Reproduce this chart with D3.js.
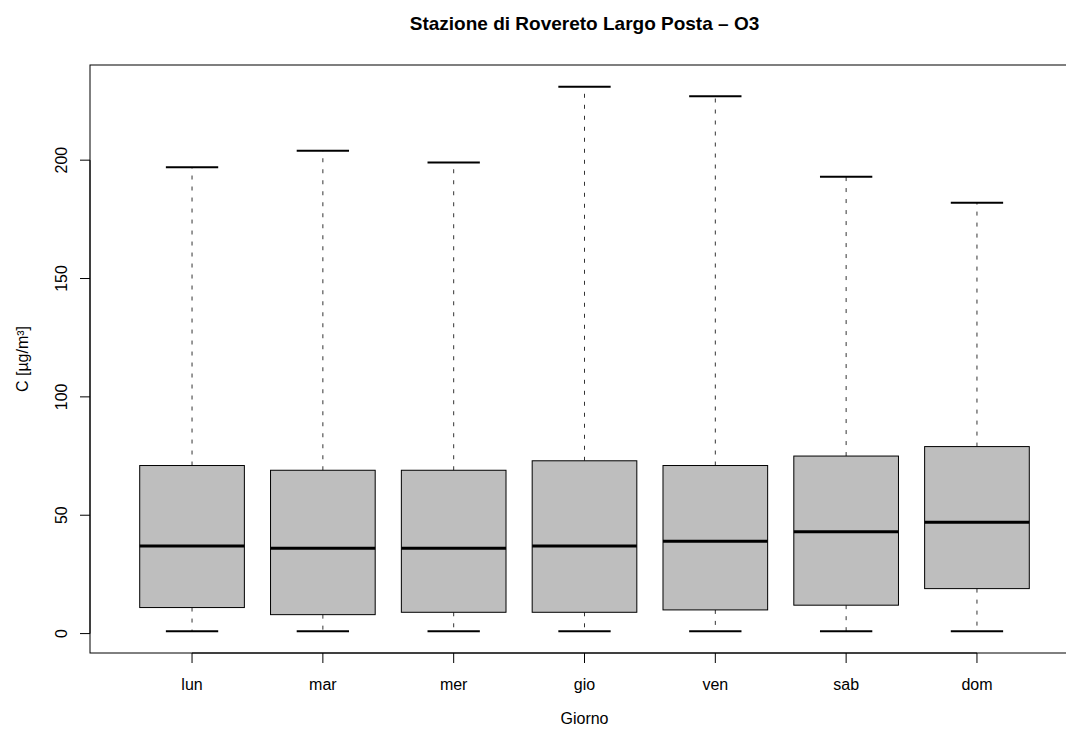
<!DOCTYPE html>
<html><head><meta charset="utf-8">
<script src="https://cdn.jsdelivr.net/npm/d3@7"></script>
<style>body{margin:0;background:#fff}text{font-family:"Liberation Sans",Arial,sans-serif}</style>
</head><body><svg id="c" width="1066" height="731"></svg>
<script>
const days = ["lun","mar","mer","gio","ven","sab","dom"];
const whiskerLow = [1,1,1,1,1,1,1];
const q1 = [11,8,9,9,10,12,19];
const median = [37,36,36,37,39,43,47];
const q3 = [71,69,69,73,71,75,79];
const whiskerHigh = [197,204,199,231,227,193,182];
const yTicks = [0,50,100,150,200];

const svg = d3.select("#c");
const L=90, R=1079, T=65, B=653;
const x = d3.scaleLinear().domain([0.22,7.78]).range([L,R]);
const y = d3.scaleLinear().domain([-8.2,240.2]).range([B,T]);
const data = days.map((d,i)=>({d,i:i+1,lo:whiskerLow[i],q1:q1[i],md:median[i],q3:q3[i],hi:whiskerHigh[i]}));
const cx = (L+R)/2;

const g = svg.append("g");
const bw=0.4, cw=0.2;
g.selectAll(".wu").data(data).join("line").attr("x1",d=>x(d.i)).attr("x2",d=>x(d.i))
 .attr("y1",d=>y(d.q3)).attr("y2",d=>y(d.hi)).attr("stroke","#333").attr("stroke-dasharray","4,7");
g.selectAll(".wl").data(data).join("line").attr("x1",d=>x(d.i)).attr("x2",d=>x(d.i))
 .attr("y1",d=>y(d.q1)).attr("y2",d=>y(d.lo)).attr("stroke","#333").attr("stroke-dasharray","4,7");
g.selectAll(".ch").data(data).join("line").attr("x1",d=>x(d.i-cw)).attr("x2",d=>x(d.i+cw))
 .attr("y1",d=>y(d.hi)).attr("y2",d=>y(d.hi)).attr("stroke","#000").attr("stroke-width",2);
g.selectAll(".cl").data(data).join("line").attr("x1",d=>x(d.i-cw)).attr("x2",d=>x(d.i+cw))
 .attr("y1",d=>y(d.lo)).attr("y2",d=>y(d.lo)).attr("stroke","#000").attr("stroke-width",2);
g.selectAll(".bx").data(data).join("rect").attr("x",d=>x(d.i-bw)).attr("width",d=>x(d.i+bw)-x(d.i-bw))
 .attr("y",d=>y(d.q3)).attr("height",d=>y(d.q1)-y(d.q3)).attr("fill","#bebebe").attr("stroke","#000").attr("stroke-width",1);
g.selectAll(".md").data(data).join("line").attr("x1",d=>x(d.i-bw)).attr("x2",d=>x(d.i+bw))
 .attr("y1",d=>y(d.md)).attr("y2",d=>y(d.md)).attr("stroke","#000").attr("stroke-width",3);

svg.append("rect").attr("x",L).attr("y",T).attr("width",R-L).attr("height",B-T)
 .attr("fill","none").attr("stroke","#000").attr("stroke-width",1);

const ya = svg.append("g");
ya.append("line").attr("x1",L).attr("x2",L).attr("y1",y(0)).attr("y2",y(200)).attr("stroke","#000");
ya.selectAll(".t").data(yTicks).join("line").attr("x1",L-10).attr("x2",L).attr("y1",d=>y(d)).attr("y2",d=>y(d)).attr("stroke","#000");
ya.selectAll("text").data(yTicks).join("text").attr("transform",d=>`translate(67,${y(d)}) rotate(-90)`)
 .attr("text-anchor","middle").attr("font-size",16).text(d=>d);

const xa = svg.append("g");
xa.append("line").attr("x1",x(1)).attr("x2",x(7)).attr("y1",B).attr("y2",B).attr("stroke","#000");
xa.selectAll(".t").data(data).join("line").attr("x1",d=>x(d.i)).attr("x2",d=>x(d.i)).attr("y1",B).attr("y2",B+10).attr("stroke","#000");
xa.selectAll("text").data(data).join("text").attr("x",d=>x(d.i)).attr("y",690)
 .attr("text-anchor","middle").attr("font-size",16).text(d=>d.d);

svg.append("text").attr("x",cx).attr("y",30).attr("text-anchor","middle").attr("font-weight","bold")
 .attr("font-size",19).text("Stazione di Rovereto Largo Posta – O3");
svg.append("text").attr("x",cx).attr("y",724).attr("text-anchor","middle").attr("font-size",16).text("Giorno");
svg.append("text").attr("transform",`translate(28,${(T+B)/2}) rotate(-90)`).attr("text-anchor","middle")
 .attr("font-size",16).text("C [µg/m³]");
</script></body></html>
